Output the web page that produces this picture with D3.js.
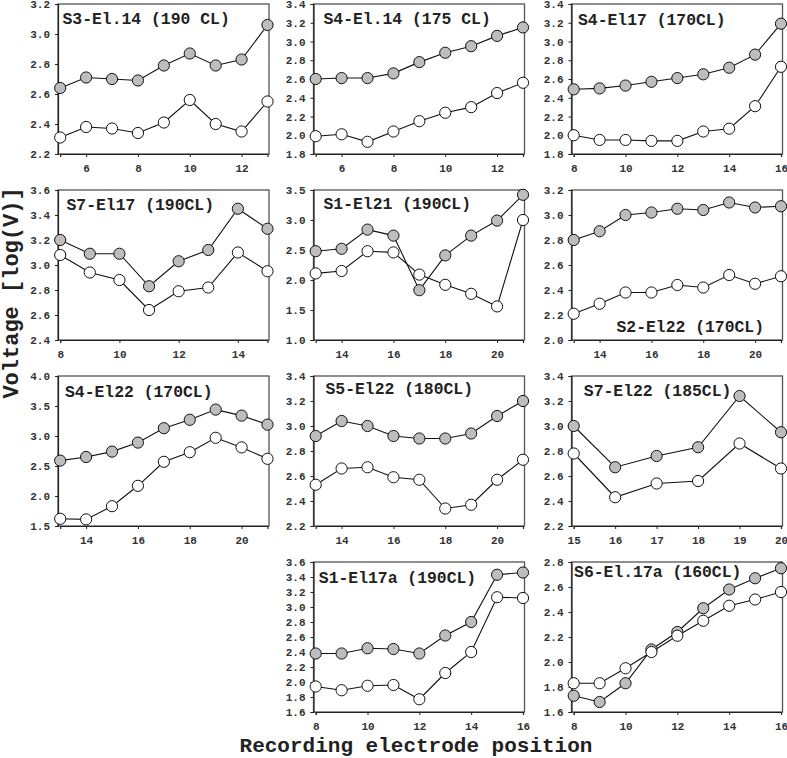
<!DOCTYPE html>
<html>
<head>
<meta charset="utf-8">
<script src="https://cdn.jsdelivr.net/npm/d3@7"></script>
<style>
  html, body { margin: 0; padding: 0; background: #fff; }
  svg { display: block; }
</style>
</head>
<body>
<svg id="chart" width="787" height="758"></svg>
<script>
// ---- DATA ----
const titles = [
  "S3-El.14 (190 CL)", "S4-El.14 (175 CL)", "S4-El17 (170CL)",
  "S7-El17 (190CL)", "S1-El21 (190CL)", "S2-El22 (170CL)",
  "S4-El22 (170CL)", "S5-El22 (180CL)", "S7-El22 (185CL)",
  "S1-El17a (190CL)", "S6-El.17a (160CL)"
];
const positions = [
  [5,6,7,8,9,10,11,12,13],
  [5,6,7,8,9,10,11,12,13],
  [8,9,10,11,12,13,14,15,16],
  [8,9,10,11,12,13,14,15],
  [13,14,15,16,17,18,19,20,21],
  [13,14,15,16,17,18,19,20,21],
  [13,14,15,16,17,18,19,20,21],
  [13,14,15,16,17,18,19,20,21],
  [15,16,17,18,19,20],
  [8,9,10,11,12,13,14,15,16],
  [8,9,10,11,12,13,14,15,16]
];
const graySeries = [
  [2.64,2.71,2.70,2.69,2.79,2.87,2.79,2.83,3.06],
  [2.60,2.61,2.61,2.66,2.78,2.88,2.95,3.06,3.15],
  [2.49,2.50,2.53,2.57,2.61,2.65,2.72,2.86,3.19],
  [3.20,3.09,3.09,2.83,3.03,3.12,3.45,3.29],
  [2.48,2.52,2.84,2.74,1.83,2.41,2.74,2.99,3.42],
  [2.80,2.87,3.00,3.02,3.05,3.04,3.10,3.06,3.07],
  [2.59,2.65,2.74,2.89,3.13,3.27,3.44,3.34,3.19],
  [2.92,3.04,3.00,2.92,2.90,2.90,2.94,3.08,3.20],
  [3.00,2.67,2.76,2.83,3.24,2.95],
  [2.38,2.38,2.45,2.44,2.38,2.62,2.80,3.43,3.46],
  [1.73,1.68,1.83,2.10,2.24,2.43,2.58,2.67,2.75]
];
const whiteSeries = [
  [2.31,2.38,2.37,2.34,2.41,2.56,2.40,2.35,2.55],
  [1.99,2.01,1.93,2.04,2.15,2.24,2.30,2.45,2.56],
  [2.00,1.95,1.95,1.94,1.94,2.04,2.07,2.31,2.73],
  [3.08,2.94,2.88,2.64,2.79,2.82,3.10,2.95],
  [2.11,2.15,2.48,2.46,2.09,1.92,1.77,1.56,3.00],
  [2.21,2.29,2.38,2.38,2.44,2.42,2.52,2.45,2.51],
  [1.62,1.61,1.83,2.17,2.57,2.73,2.97,2.81,2.62],
  [2.53,2.66,2.67,2.59,2.57,2.34,2.37,2.57,2.73],
  [2.78,2.43,2.54,2.56,2.86,2.66],
  [1.94,1.89,1.95,1.96,1.77,2.12,2.40,3.13,3.12],
  [1.83,1.83,1.95,2.08,2.21,2.33,2.45,2.50,2.56]
];
const yDomains = [
  [2.2,3.2],[1.8,3.4],[1.8,3.4],
  [2.4,3.6],[1.0,3.5],[2.0,3.2],
  [1.5,4.0],[2.2,3.4],[2.2,3.4],
  [1.6,3.6],[1.6,2.8]
];
const yTickSteps = [0.2,0.2,0.2, 0.2,0.5,0.2, 0.5,0.2,0.2, 0.2,0.2];
const xTickValues = [
  [6,8,10,12],[6,8,10,12],[8,10,12,14,16],
  [8,10,12,14],[14,16,18,20],[14,16,18,20],
  [14,16,18,20],[14,16,18,20],[15,16,17,18,19,20],
  [8,10,12,14,16],[8,10,12,14,16]
];
const yAxisLabel = "Voltage [log(V)]";
const xAxisLabel = "Recording electrode position";

// ---- LAYOUT ----
const colLeft = [58, 313.5, 571.5];
const rowTop = [4, 190, 376, 562];
const panelW = 211, panelH = 150;
const grid = [[0,0],[0,1],[0,2],[1,0],[1,1],[1,2],[2,0],[2,1],[2,2],[3,1],[3,2]];
const titlePos = [
  [4.5,20],[10,20],[6.5,21],
  [8.5,20],[10,18.5],[45,141.5],
  [7,21.3],[12,17.5],[12.3,20],
  [5.3,21.3],[2.6,14.5]
];
const FONT = "'Liberation Mono', 'DejaVu Sans Mono', monospace";

const svg = d3.select("#chart");

grid.forEach(([r, c], i) => {
  const left = colLeft[c], top = rowTop[r];
  const g = svg.append("g");
  const xs = positions[i];
  const x = d3.scaleLinear()
    .domain([d3.min(xs), d3.max(xs)])
    .range([left + 2.2, left + panelW - 1.5]);
  const y = d3.scaleLinear().domain(yDomains[i]).range([top + panelH, top]);

  const [y0, y1] = yDomains[i];
  const st = yTickSteps[i];
  const yTicks = d3.range(Math.round((y1 - y0) / st) + 1).map(k => +(y0 + k * st).toFixed(2));

  // frame
  g.append("rect")
    .attr("x", left).attr("y", top)
    .attr("width", panelW).attr("height", panelH)
    .attr("fill", "none").attr("stroke", "#555").attr("stroke-width", 1.3);

  // y axis
  const yAx = g.append("g").attr("transform", `translate(${left},0)`)
    .call(d3.axisLeft(y).tickValues(yTicks).tickFormat(d3.format(".1f")).tickSize(3).tickPadding(5));
  // x axis
  const xAx = g.append("g").attr("transform", `translate(0,${top + panelH})`)
    .call(d3.axisBottom(x).tickValues(xTickValues[i]).tickFormat(d3.format("d")).tickSize(3).tickPadding(7));
  [yAx, xAx].forEach(ax => {
    ax.select(".domain").attr("stroke", "#222").attr("stroke-width", 1.2);
    ax.selectAll(".tick line").attr("stroke", "#222");
    ax.selectAll(".tick text")
      .attr("font-family", FONT).attr("font-weight", "bold")
      .attr("font-size", 11).attr("fill", "#333");
  });

  // series
  const pts = (vals) => vals.map((v, k) => [xs[k], v]);
  const line = d3.line().x(d => x(d[0])).y(d => y(d[1]));
  const series = [
    { vals: graySeries[i], fill: "#bdbdbd" },
    { vals: whiteSeries[i], fill: "#ffffff" }
  ];
  series.forEach(s => {
    g.append("path").datum(pts(s.vals))
      .attr("d", line).attr("fill", "none")
      .attr("stroke", "#111").attr("stroke-width", 1.1);
  });
  series.forEach(s => {
    g.selectAll(null).data(pts(s.vals)).enter().append("circle")
      .attr("cx", d => x(d[0])).attr("cy", d => y(d[1])).attr("r", 5.6)
      .attr("fill", s.fill).attr("stroke", "#111").attr("stroke-width", 1);
  });

  // title
  g.append("text")
    .attr("x", left + titlePos[i][0]).attr("y", top + titlePos[i][1])
    .attr("font-family", FONT).attr("font-weight", "bold")
    .attr("font-size", 16.4).attr("fill", "#222")
    .text(titles[i]);
});

// axis labels
svg.append("text")
  .attr("transform", "translate(18,293) rotate(-90)")
  .attr("text-anchor", "middle")
  .attr("font-family", FONT).attr("font-weight", "bold")
  .attr("font-size", 22).attr("fill", "#222")
  .text(yAxisLabel);
svg.append("text")
  .attr("x", 416).attr("y", 751.5)
  .attr("text-anchor", "middle")
  .attr("font-family", FONT).attr("font-weight", "bold")
  .attr("font-size", 21).attr("fill", "#222")
  .text(xAxisLabel);
</script>
</body>
</html>
